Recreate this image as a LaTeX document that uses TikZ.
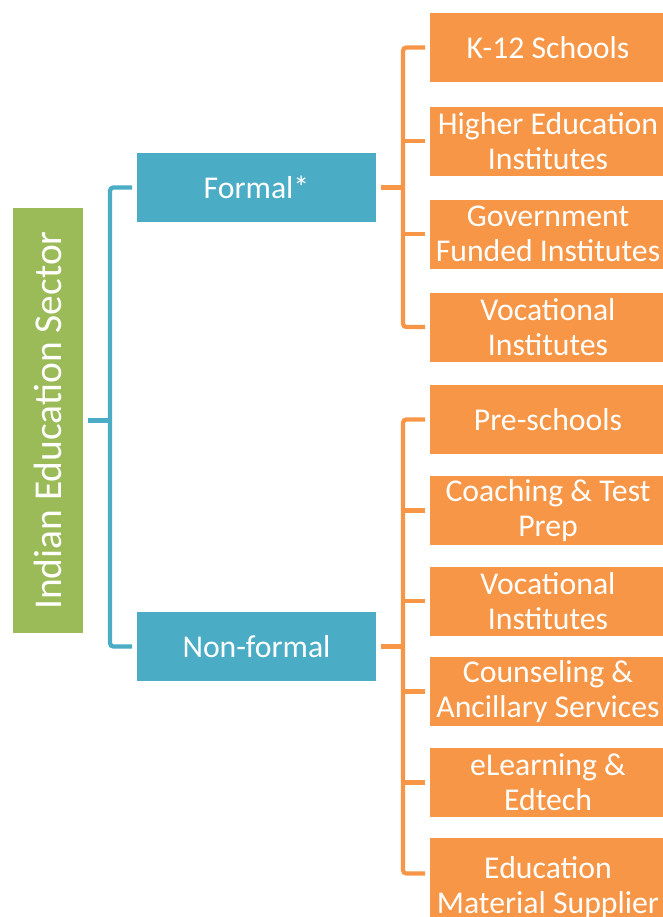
\documentclass[tikz,border=0pt]{standalone}
\usepackage{fontspec}
\setmainfont{Carlito}
\usepackage{xcolor}
\definecolor{rootgreen}{HTML}{9BBB59}
\definecolor{branchteal}{HTML}{4BACC6}
\definecolor{leaforange}{HTML}{F79646}
\usetikzlibrary{positioning}

\begin{document}
\begin{tikzpicture}[x=0.75pt,y=-0.75pt,
	root/.style={rectangle,fill=rootgreen,text=white,minimum width=52.5pt,minimum height=318.75pt,inner sep=0pt,outer sep=3.75pt,font=\fontsize{29.6}{32}\selectfont},
	branch/.style={rectangle,fill=branchteal,text=white,minimum width=179.25pt,minimum height=51.75pt,inner sep=0pt,outer sep=3.75pt,font=\fontsize{23.8}{26.3}\selectfont},
	leaf/.style={rectangle,fill=leaforange,text=white,minimum width=177pt,minimum height=51.75pt,inner sep=0pt,outer sep=3.75pt,align=center,font=\fontsize{23.8}{26.3}\selectfont},
	tline/.style={draw=branchteal,line width=3.2pt,rounded corners=2.5pt},
	oline/.style={draw=leaforange,line width=3.2pt,rounded corners=2.5pt}]
		\useasboundingbox (0,0) rectangle (662,917);

		% draw root
		\node (ies) at (48,420.5) [root] {\rotatebox{90}{Indian Education Sector}};

		% draw branches
		\node (formal) at (256.5,187.5) [branch] {Formal*};
		\node (nonformal) at (256.5,646.5) [branch] {Non-formal};

		% draw formal leaves
		\node (k12) at (548,47.5) [leaf] {K-12 Schools};
		\node (higher) at (548,141) [leaf] {Higher Education\\Institutes};
		\node (govt) at (548,234) [leaf] {Government\\Funded Institutes};
		\node (vocf) at (548,327) [leaf] {Vocational\\Institutes};

		% draw non-formal leaves
		\node (pre) at (548,419.5) [leaf] {Pre-schools};
		\node (coach) at (548,510.5) [leaf] {Coaching \& Test\\Prep};
		\node (vocn) at (548,601) [leaf] {Vocational\\Institutes};
		\node (couns) at (548,691.5) [leaf] {Counseling \&\\Ancillary Services};
		\node (elearn) at (548,782.5) [leaf] {eLearning \&\\Edtech};
		\node (supply) at (548,878.5) [leaf,minimum height=57.75pt] {\rule{0pt}{30pt}Education\\Material Supplier};

		% draw lines from root to branches
		\coordinate (tspine) at (110,420.5);
		\draw[tline] (ies.east) -- (tspine);
		\draw[tline] (formal.west) -| (tspine) |- (nonformal.west);

		% draw lines from formal to its leaves
		\coordinate (fspine) at (403,187.5);
		\draw[oline] (formal.east) -- (fspine);
		\draw[oline] (k12.west) -| (fspine) |- (vocf.west);
		\draw[oline] (fspine |- higher.west) -- (higher.west);
		\draw[oline] (fspine |- govt.west) -- (govt.west);

		% draw lines from non-formal to its leaves
		\coordinate (nspine) at (403,646.5);
		\draw[oline] (nonformal.east) -- (nspine);
		\draw[oline] (pre.west) -| (nspine) |- ([yshift=3.75pt]supply.west);
		\draw[oline] (nspine |- coach.west) -- (coach.west);
		\draw[oline] (nspine |- vocn.west) -- (vocn.west);
		\draw[oline] (nspine |- couns.west) -- (couns.west);
		\draw[oline] (nspine |- elearn.west) -- (elearn.west);
	\end{tikzpicture}
\end{document}
